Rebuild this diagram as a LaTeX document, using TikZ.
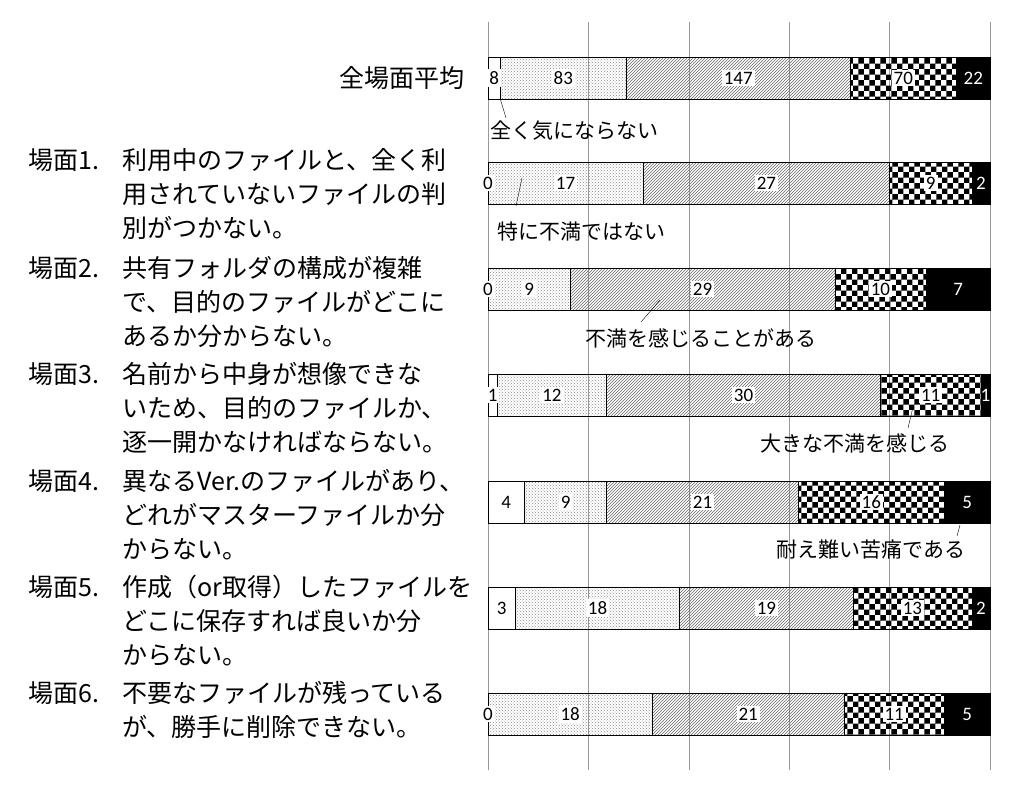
\documentclass[tikz,border=0pt]{standalone}
\usepackage{fontspec}
\setmainfont{Carlito}
\newfontfamily\jpfont{Noto Sans CJK JP}
\usetikzlibrary{patterns}
\tikzset{
  seg0/.style = {draw, fill=white},
  seg1/.style = {draw, pattern=crosshatch dots, pattern color=black!45},
  seg2/.style = {draw, pattern=north east lines, pattern color=black!60},
  seg3/.style = {draw, pattern=checkerboard, pattern color=black},
  seg4/.style = {draw, fill=black},
  num/.style = {fill=white, inner sep=2pt, font=\fontsize{19}{19}\selectfont},
  numw/.style = {text=white, inner sep=2pt, font=\fontsize{19}{19}\selectfont},
  scene/.style = {anchor=west, inner sep=0pt, font=\jpfont\fontsize{25}{25}\selectfont},
  cat/.style = {anchor=west, inner sep=0pt, font=\jpfont\fontsize{21}{21}\selectfont},
  leader/.style = {draw, thin}
}
% one stacked bar: y, five values, total
\newcommand{\stackbar}[7]{%
  \pgfmathsetmacro{\unitw}{502/#7}
  \pgfmathsetmacro{\xa}{488}
  \pgfmathsetmacro{\xb}{\xa+\unitw*#2}
  \pgfmathsetmacro{\xc}{\xb+\unitw*#3}
  \pgfmathsetmacro{\xd}{\xc+\unitw*#4}
  \pgfmathsetmacro{\xe}{\xd+\unitw*#5}
  \filldraw[seg0] (\xa,#1-21) rectangle (\xb,#1+21);
  \filldraw[seg1] (\xb,#1-21) rectangle (\xc,#1+21);
  \filldraw[seg2] (\xc,#1-21) rectangle (\xd,#1+21);
  \filldraw[seg3] (\xd,#1-21) rectangle (\xe,#1+21);
  \filldraw[seg4] (\xe,#1-21) rectangle (990,#1+21);
  \node[num] at ({(\xa+\xb)/2},#1) {#2};
  \node[num] at ({(\xb+\xc)/2},#1) {#3};
  \node[num] at ({(\xc+\xd)/2},#1) {#4};
  \node[num] at ({(\xd+\xe)/2},#1) {#5};
  \node[numw] at ({(\xe+990)/2},#1) {#6};
}
\begin{document}
\begin{tikzpicture}[x=1pt, y=-1pt]
  \useasboundingbox (0,0) rectangle (1024,796);
  % grid
  \foreach \gx in {488,588.4,688.8,789.2,889.6,990}
    \draw[black!40, thin] (\gx,22) -- (\gx,770);
  % bars
  \stackbar{78}{8}{83}{147}{70}{22}{330}
  \stackbar{183}{0}{17}{27}{9}{2}{55}
  \stackbar{289}{0}{9}{29}{10}{7}{55}
  \stackbar{395}{1}{12}{30}{11}{1}{55}
  \stackbar{502}{4}{9}{21}{16}{5}{55}
  \stackbar{608}{3}{18}{19}{13}{2}{55}
  \stackbar{714}{0}{18}{21}{11}{5}{55}
  % category labels
  \node[cat] (c1) at (490,131) {全く気にならない};
  \node[cat] (c2) at (497,232) {特に不満ではない};
  \node[cat] (c3) at (585,338) {不満を感じることがある};
  \node[cat] (c4) at (760,443) {大きな不満を感じる};
  \node[cat] (c5) at (776,550) {耐え難い苦痛である};
  \coordinate (p1) at (500,98);
  \coordinate (p2) at (522,178);
  \coordinate (p3) at (660,300);
  \coordinate (p4) at (913,407);
  \coordinate (p5) at (960,525);
  \path[leader] (p1) -- (506,118);
  \path[leader] (p2) -- (516,206);
  \path[leader] (p3) -- (641,322);
  \path[leader] (p4) -- (908,428);
  \path[leader] (p5) -- (957,536);
  % scene labels
  \node[scene, anchor=east] (s0) at (465,78) {全場面平均};
  \node[scene] (s1) at (28,160) {場面1.};
  \node[scene] at (122,160) {利用中のファイルと、全く利};
  \node[scene] at (122,194) {用されていないファイルの判};
  \node[scene] at (122,228) {別がつかない。};
  \node[scene] (s2) at (28,268) {場面2.};
  \node[scene] at (122,268) {共有フォルダの構成が複雑};
  \node[scene] at (122,302) {で、目的のファイルがどこに};
  \node[scene] at (122,336) {あるか分からない。};
  \node[scene] (s3) at (28,374) {場面3.};
  \node[scene] at (122,374) {名前から中身が想像できな};
  \node[scene] at (122,408) {いため、目的のファイルか、};
  \node[scene] at (122,442) {逐一開かなければならない。};
  \node[scene] (s4) at (28,481) {場面4.};
  \node[scene] at (122,481) {異なるVer.のファイルがあり、};
  \node[scene] at (122,515) {どれがマスターファイルか分};
  \node[scene] at (122,549) {からない。};
  \node[scene] (s5) at (28,587) {場面5.};
  \node[scene] at (122,587) {作成（or取得）したファイルを};
  \node[scene] at (122,621) {どこに保存すれば良いか分};
  \node[scene] at (122,655) {からない。};
  \node[scene] (s6) at (28,693) {場面6.};
  \node[scene] at (122,693) {不要なファイルが残っている};
  \node[scene] at (122,727) {が、勝手に削除できない。};
\end{tikzpicture}
\end{document}
